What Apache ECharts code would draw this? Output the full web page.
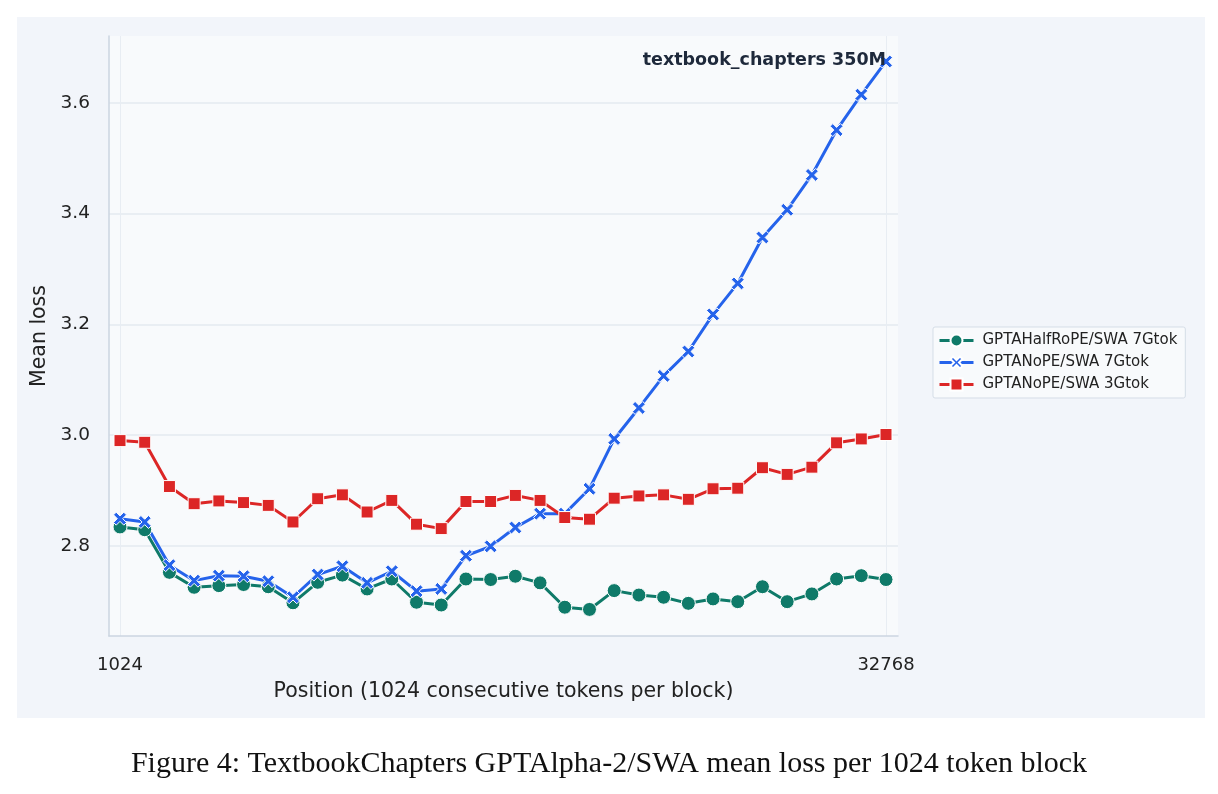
<!DOCTYPE html>
<html>
<head>
<meta charset="utf-8">
<script src="https://cdn.jsdelivr.net/npm/echarts@6/dist/echarts.min.js"></script>
<style>
  html, body { margin: 0; padding: 0; background: #ffffff; }
  #main { width: 1218px; height: 794px; }
</style>
</head>
<body>
<div id="main"></div>
<script>
// block start positions (1024 tokens per block)
const positions = [
  1024, 2048, 3072, 4096, 5120, 6144, 7168, 8192,
  9216, 10240, 11264, 12288, 13312, 14336, 15360, 16384,
  17408, 18432, 19456, 20480, 21504, 22528, 23552, 24576,
  25600, 26624, 27648, 28672, 29696, 30720, 31744, 32768
]
const xTicks = [1024, 32768]
const yTicks = [2.8, 3.0, 3.2, 3.4, 3.6]

// mean loss per block
const halfRope7 = [
  2.834, 2.829, 2.752, 2.725, 2.728, 2.730, 2.726, 2.697,
  2.734, 2.747, 2.722, 2.740, 2.698, 2.693, 2.740, 2.739,
  2.745, 2.733, 2.689, 2.685, 2.719, 2.711, 2.707, 2.696,
  2.704, 2.699, 2.726, 2.699, 2.713, 2.740, 2.746, 2.739
]
const nope7 = [
  2.849, 2.843, 2.765, 2.737, 2.746, 2.745, 2.736, 2.707,
  2.748, 2.763, 2.733, 2.754, 2.718, 2.722, 2.782, 2.799,
  2.833, 2.858, 2.858, 2.903, 2.993, 3.049, 3.107, 3.151,
  3.218, 3.274, 3.357, 3.407, 3.470, 3.551, 3.615, 3.675
]
const nope3 = [
  2.990, 2.987, 2.907, 2.876, 2.881, 2.878, 2.873, 2.843,
  2.885, 2.892, 2.861, 2.882, 2.839, 2.831, 2.880, 2.880,
  2.891, 2.882, 2.851, 2.848, 2.886, 2.890, 2.892, 2.884,
  2.903, 2.904, 2.941, 2.929, 2.942, 2.986, 2.993, 3.001
]
const seriesNames = ['GPTAHalfRoPE/SWA 7Gtok', 'GPTANoPE/SWA 7Gtok', 'GPTANoPE/SWA 3Gtok']

const pairs = arr => positions.map((p, i) => [p, arr[i]])

// X-shaped marker, thick arms
const crossPath = 'path://M0,2.5 L2.5,0 L6,3.5 L9.5,0 L12,2.5 L8.5,6 L12,9.5 L9.5,12 L6,8.5 L2.5,12 L0,9.5 L3.5,6 Z'

const font = 'DejaVu Sans'

function lineSeries(name, data, color, symbol, size) {
  return {
    name: name,
    type: 'line',
    data: pairs(data),
    symbol: symbol,
    symbolSize: size,
    showSymbol: true,
    lineStyle: { color: color, width: 3 },
    itemStyle: { color: color, borderColor: '#ffffff', borderWidth: 1 },
    emphasis: { disabled: true },
    z: 3
  }
}

const chart = echarts.init(document.getElementById('main'))
chart.setOption({
  animation: false,
  backgroundColor: '#ffffff',
  textStyle: { fontFamily: font },
  graphic: [
    {
      type: 'rect',
      shape: { x: 17, y: 17, width: 1188, height: 701 },
      style: { fill: '#f2f5fa' },
      z: -10, silent: true
    },
    {
      type: 'text',
      left: 'center',
      top: 749,
      style: {
        text: 'Figure 4: TextbookChapters GPTAlpha-2/SWA mean loss per 1024 token block',
        font: '30px "Liberation Serif"',
        fill: '#111111'
      }
    },
    {
      type: 'text',
      right: 332,
      top: 51,
      style: {
        text: 'textbook_chapters 350M',
        font: 'bold 17.5px "DejaVu Sans"',
        fill: '#1e293b'
      },
      z: 10
    }
  ],
  grid: {
    left: 109, top: 36, right: 320, bottom: 158,
    show: true, backgroundColor: '#f8fafc', borderWidth: 0
  },
  legend: {
    orient: 'vertical',
    left: 933, top: 327,
    padding: [6, 8, 6, 5],
    itemGap: 7,
    itemWidth: 34, itemHeight: 15,
    backgroundColor: '#f8fafc',
    borderColor: '#d5dde7', borderWidth: 1, borderRadius: 2,
    lineStyle: { width: 3 },
    textStyle: { fontFamily: font, fontSize: 15, color: '#222222', padding: [0, 0, 0, 4] },
    data: seriesNames
  },
  xAxis: {
    type: 'value',
    min: 568, max: 33265,
    axisLine: { show: true, lineStyle: { color: '#cbd5e1', width: 1.5 } },
    axisTick: { show: false, customValues: xTicks },
    axisLabel: {
      customValues: xTicks, fontSize: 18, color: '#222222', margin: 20, fontFamily: font,
      formatter: v => String(v)
    },
    splitLine: { show: true, lineStyle: { color: '#e8edf3', width: 1 } },
    name: 'Position (1024 consecutive tokens per block)',
    nameLocation: 'middle', nameGap: 45,
    nameTextStyle: { fontSize: 20.5, color: '#222222', fontFamily: font }
  },
  yAxis: {
    type: 'value',
    min: 2.637, max: 3.721,
    axisLine: { show: true, lineStyle: { color: '#cbd5e1', width: 1.5 } },
    axisTick: { show: false, customValues: yTicks },
    axisLabel: {
      customValues: yTicks, fontSize: 18.5, color: '#222222', margin: 19, fontFamily: font,
      formatter: v => v.toFixed(1)
    },
    splitLine: { show: true, lineStyle: { color: '#e5eaf0', width: 1.5 } },
    name: 'Mean loss',
    nameLocation: 'middle', nameGap: 47,
    nameTextStyle: { fontSize: 20.5, color: '#222222', fontFamily: font }
  },
  series: [
    lineSeries(seriesNames[0], halfRope7, '#0f7a69', 'circle', 14),
    lineSeries(seriesNames[1], nope7, '#2563eb', crossPath, 13),
    lineSeries(seriesNames[2], nope3, '#dc2626', 'rect', 12)
  ]
})
</script>
</body>
</html>
